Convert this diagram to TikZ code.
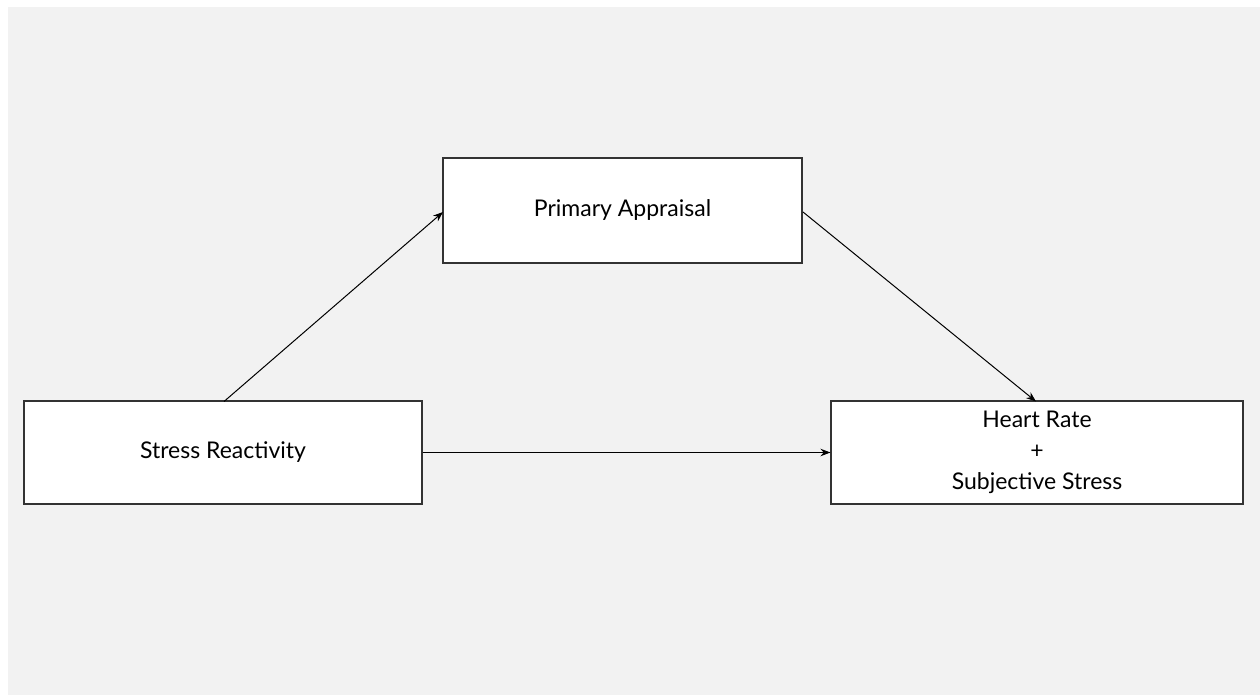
\documentclass[tikz,border=0pt]{standalone}
\usepackage{fontspec}
\setmainfont{Lato}
\usetikzlibrary{arrows.meta}
\begin{document}
\begin{tikzpicture}[x=1pt,y=-1pt,
  box/.style={draw=black!80,line width=1.1pt,fill=white,inner sep=0pt,font=\fontsize{23}{31}\selectfont,align=center},
  conn/.style={line width=1pt,-{Stealth[length=10pt,width=7.5pt]}}]
  \useasboundingbox (0,0) rectangle (1260,695);
  \fill[white] (0,0) rectangle (1260,695);
  \fill[black!5] (8,7) rectangle (1260,695);
  \node[box,minimum width=398pt,minimum height=103pt] (sr) at (223,452.5) {Stress Reactivity};
  \node[box,minimum width=359pt,minimum height=105pt] (pa) at (622.5,210.5) {Primary Appraisal};
  \node[box,minimum width=412pt,minimum height=103pt] (hr) at (1037,452.5) {Heart Rate\\+\\Subjective Stress};
  \coordinate (a1) at (224,401.5);
  \coordinate (a2) at (443,212);
  \coordinate (b1) at (803,212);
  \coordinate (b2) at (1036,401.5);
  \draw[conn] (a1) -- (a2);
  \draw[conn] (b1) -- (b2);
  \draw[conn] (sr.east) -- (hr.west);
\end{tikzpicture}
\end{document}
